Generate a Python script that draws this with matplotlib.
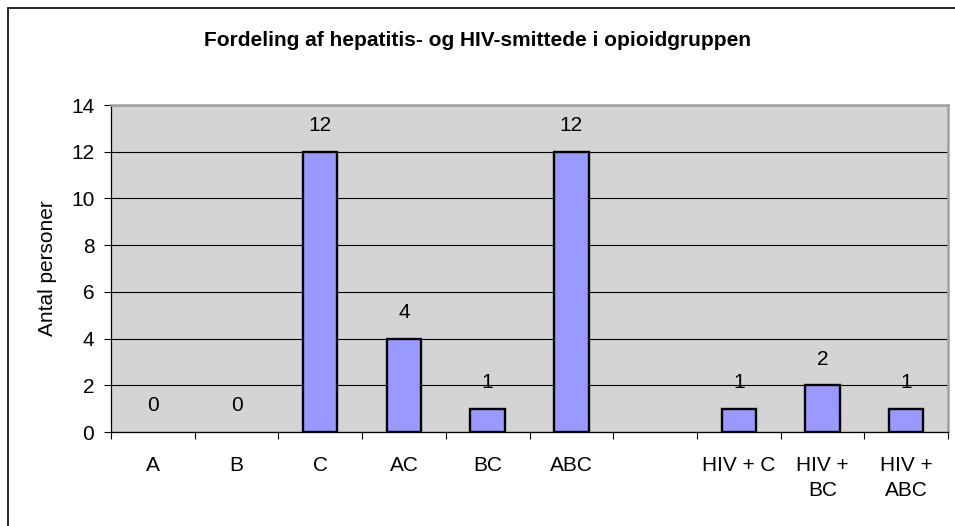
import numpy as np
import matplotlib
matplotlib.use("Agg")
import matplotlib.pyplot as plt
from matplotlib.patches import Rectangle

plt.rcParams["font.family"] = ["Liberation Sans", "DejaVu Sans"]

# ── Data ─────────────────────────────────────────────────────
CATEGORIES = ["A", "B", "C", "AC", "BC", "ABC", "",
              "HIV + C", "HIV +\nBC", "HIV +\nABC"]
COUNTS = [0, 0, 12, 4, 1, 12, np.nan, 1, 2, 1]
Y_TICKS = [0, 2, 4, 6, 8, 10, 12, 14]

TITLE = "Fordeling af hepatitis- og HIV-smittede i opioidgruppen"
Y_LABEL = "Antal personer"

BAR_COLOR = "#9999FF"
PLOT_BG = "#D4D4D4"
FS = 15


def main():
    fig = plt.figure(figsize=(9.55, 5.26), dpi=100)
    ax = fig.add_axes([111 / 955, 1 - 432 / 526, 837 / 955, 327 / 526])

    x = np.arange(len(CATEGORIES))
    counts = np.array(COUNTS, dtype=float)
    bars = ax.bar(x, np.nan_to_num(counts), width=0.41, color=BAR_COLOR,
                  edgecolor="black", linewidth=1.7, zorder=3)

    # zero-height bars and the empty spacer slot draw nothing
    for b, val in zip(bars, counts):
        if np.isnan(val) or val == 0:
            b.set_visible(False)

    # value labels above each bar (skip the spacer slot)
    for xi, val in zip(x, counts):
        if np.isnan(val):
            continue
        ax.annotate(f"{int(val)}", xy=(xi, val), xytext=(0, 12),
                    textcoords="offset points", ha="center", va="bottom",
                    fontsize=FS)

    ax.set_xlim(-0.5, len(CATEGORIES) - 0.5)
    ax.set_ylim(0, 14)
    ax.set_facecolor(PLOT_BG)

    ax.set_yticks(Y_TICKS)
    ax.yaxis.grid(True, color="black", linewidth=0.8, zorder=1)
    ax.set_axisbelow(True)
    ax.tick_params(axis="y", labelsize=FS, length=5, width=0.8, pad=7)

    # category ticks sit on the boundaries, labels in the middle
    ax.set_xticks(np.arange(len(CATEGORIES) + 1) - 0.5)
    ax.set_xticklabels([])
    ax.set_xticks(x, minor=True)
    ax.set_xticklabels(CATEGORIES, minor=True, fontsize=FS, linespacing=1.45)
    ax.tick_params(axis="x", which="major", length=5, width=0.8)
    ax.tick_params(axis="x", which="minor", length=0, pad=17)

    for side in ("left", "bottom"):
        ax.spines[side].set_color("black")
        ax.spines[side].set_linewidth(0.9)
    for side in ("top", "right"):
        ax.spines[side].set_color("#A0A0A0")
        ax.spines[side].set_linewidth(1.8)

    ax.set_ylabel(Y_LABEL, fontsize=FS, labelpad=10)
    fig.text(0.5, 1 - 40 / 526, TITLE, ha="center", va="center",
             fontsize=FS, fontweight="bold")

    # chart frame: left and top edges
    fig.add_artist(Rectangle((8 / 955, -0.1), 1.2, 1.1 - 7.5 / 526,
                             transform=fig.transFigure, fill=False,
                             edgecolor="black", linewidth=1.2))

    fig.savefig("out.png", dpi=100)


if __name__ == "__main__":
    main()
